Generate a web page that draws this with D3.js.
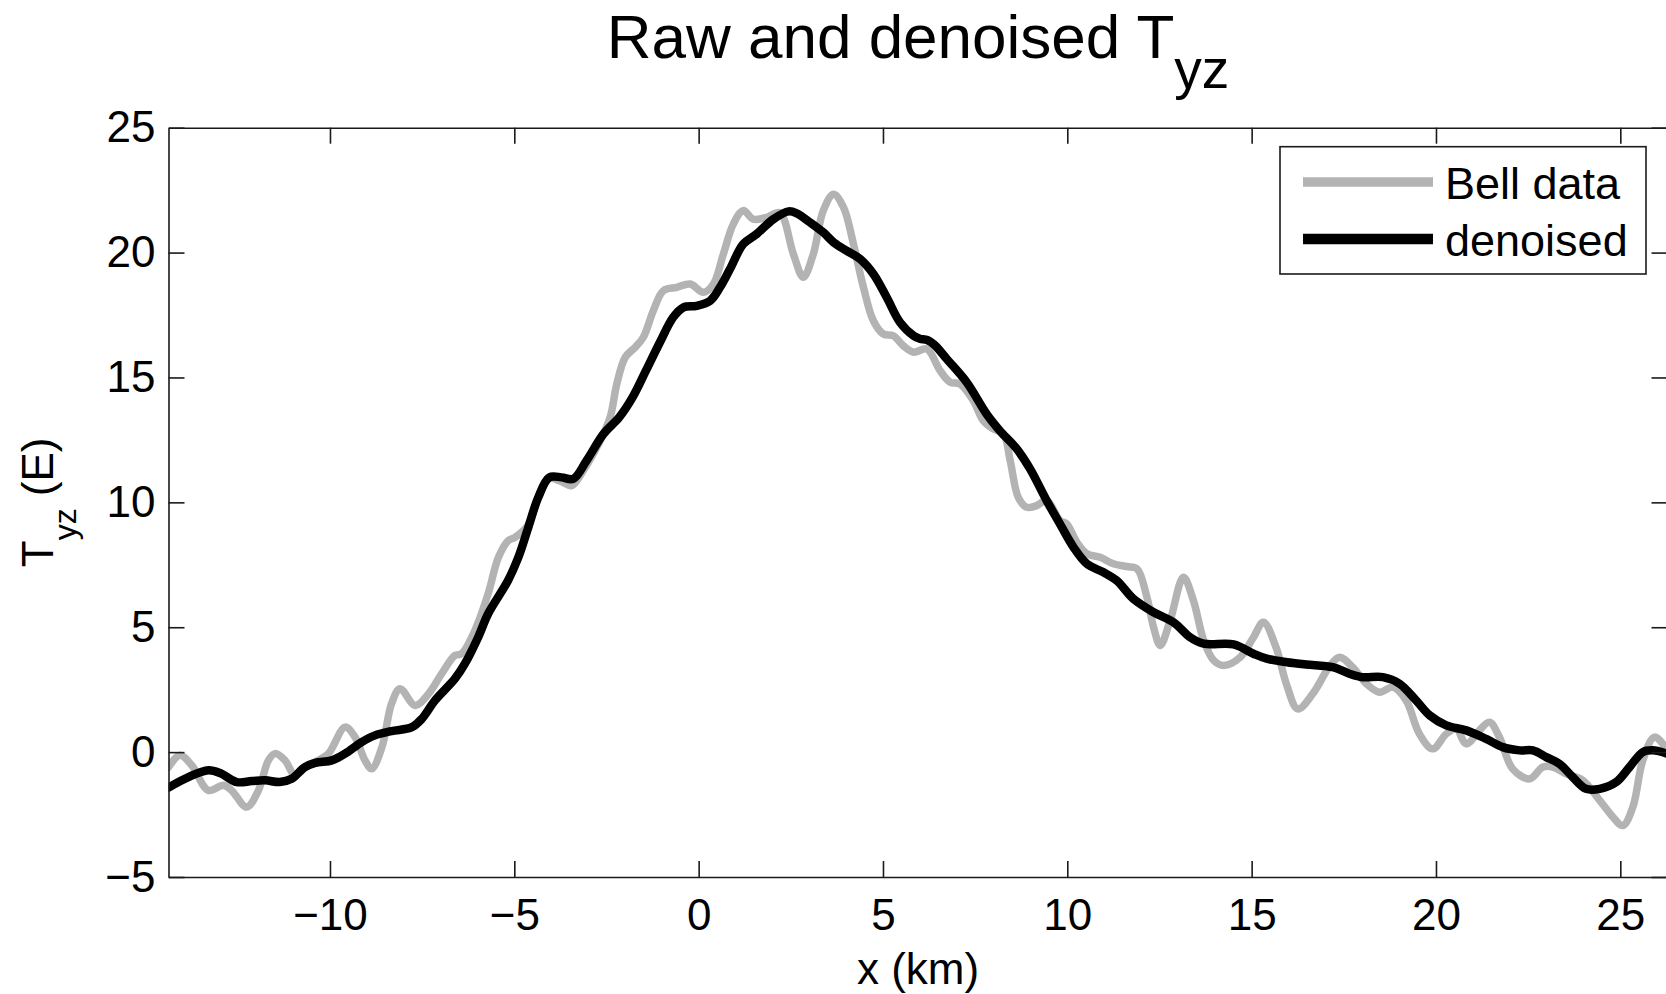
<!DOCTYPE html>
<html>
  <head>
    <meta charset="utf-8">
  </head>
  <body style="margin:0;background:#fff">
    <style>
      svg { display: block; }
      text { font-family: "Liberation Sans", Arial, sans-serif; fill: #000; }
    </style>
    <script src="https://d3js.org/d3.v7.min.js"></script>
    <script type="text/javascript">
      const width = 1666;
      const height = 994;
      const plotLeft = 168.5, plotRight = 1667.5, plotTop = 127.7, plotBottom = 877;

      const xTicks = [-10, -5, 0, 5, 10, 15, 20, 25];
      const yTicks = [-5, 0, 5, 10, 15, 20, 25];
      const seriesNames = ['Bell data', 'denoised'];

      // raw "Bell data" trace
      const bellX = [-14.38, -14.07, -13.75, -13.30, -12.89, -12.67, -12.26, -11.94, -11.67, -11.49,
        -11.22, -10.95, -10.68, -10.32, -10.04, -9.59, -9.32, -9.05, -8.87, -8.59,
        -8.33, -8.10, -7.69, -7.33, -6.97, -6.61, -6.43, -6.07, -5.71, -5.43,
        -5.16, -4.98, -4.62, -4.35, -4.05, -3.75, -3.44, -3.13, -2.67, -2.40,
        -2.22, -1.99, -1.72, -1.50, -1.23, -0.96, -0.59, -0.23, 0.13, 0.40,
        0.67, 0.94, 1.21, 1.48, 1.85, 2.20, 2.57, 2.84, 3.11, 3.38,
        3.66, 3.93, 4.20, 4.47, 4.74, 5.01, 5.28, 5.55, 5.83, 6.19,
        6.55, 6.82, 7.09, 7.45, 7.72, 7.99, 8.27, 8.45, 8.67, 8.90,
        9.17, 9.44, 9.80, 9.98, 10.26, 10.53, 10.89, 11.25, 11.61, 11.89,
        12.16, 12.34, 12.52, 12.79, 13.15, 13.42, 13.70, 13.97, 14.24, 14.69,
        15.05, 15.32, 15.66, 15.94, 16.25, 16.66, 17.10, 17.38, 17.74, 18.11,
        18.47, 18.83, 19.19, 19.55, 19.91, 20.28, 20.55, 20.82, 21.18, 21.45,
        21.72, 22.08, 22.54, 22.90, 23.17, 23.53, 23.98, 24.44, 24.80, 25.07,
        25.34, 25.61, 25.93, 26.28];
      const bellY = [-0.60, -0.13, -0.53, -1.53, -1.33, -1.53, -2.20, -1.53, -0.33, -0.06,
        -0.33, -0.93, -0.60, -0.33, -0.06, 1.00, 0.60, -0.33, -0.67, 0.20,
        1.94, 2.54, 1.87, 2.33, 3.14, 3.87, 3.94, 4.87, 6.34, 7.80,
        8.47, 8.60, 9.10, 10.20, 10.95, 10.85, 10.67, 11.27, 12.47, 13.41,
        14.74, 15.81, 16.21, 16.61, 17.67, 18.47, 18.61, 18.74, 18.41, 18.74,
        19.94, 21.14, 21.68, 21.34, 21.41, 21.60, 19.94, 19.01, 19.94, 21.68,
        22.34, 21.81, 20.34, 18.61, 17.27, 16.74, 16.67, 16.27, 16.01, 16.14,
        15.27, 14.81, 14.74, 14.07, 13.27, 12.94, 12.74, 11.67, 10.20, 9.80,
        9.87, 10.07, 9.27, 9.14, 8.40, 7.94, 7.80, 7.54, 7.43, 7.34,
        6.20, 5.00, 4.27, 5.27, 7.00, 6.07, 4.47, 3.67, 3.47, 3.80,
        4.60, 5.20, 4.20, 2.74, 1.73, 2.34, 3.40, 3.80, 3.40, 2.74,
        2.40, 2.60, 2.07, 0.73, 0.13, 0.73, 0.93, 0.33, 0.87, 1.20,
        0.60, -0.67, -1.07, -0.60, -0.60, -0.87, -1.13, -1.93, -2.60, -2.94,
        -2.20, -0.33, 0.60, 0.07];

      // denoised trace
      const denoisedX = [-14.38, -13.84, -13.30, -12.98, -12.53, -12.12, -11.76, -11.36, -11.04, -10.68,
        -10.40, -9.95, -9.59, -9.14, -8.78, -8.33, -7.78, -7.51, -7.15, -6.61,
        -6.34, -5.98, -5.71, -5.17, -4.89, -4.62, -4.35, -4.05, -3.72, -3.40,
        -3.04, -2.58, -2.15, -1.79, -1.43, -1.05, -0.69, -0.41, -0.05, 0.31,
        0.58, 0.85, 1.21, 1.57, 2.03, 2.44, 2.66, 3.02, 3.38, 3.66,
        4.02, 4.38, 4.74, 5.10, 5.46, 5.83, 6.00, 6.20, 6.40, 6.73,
        7.27, 7.81, 8.17, 8.63, 8.99, 9.44, 9.80, 10.17, 10.53, 10.98,
        11.34, 11.79, 12.34, 12.88, 13.33, 13.70, 14.51, 15.05, 15.41, 15.96,
        16.48, 17.20, 17.65, 18.01, 18.56, 19.01, 19.46, 19.83, 20.28, 20.82,
        21.36, 21.81, 22.27, 22.63, 22.99, 23.35, 23.71, 24.07, 24.44, 24.89,
        25.25, 25.61, 25.88, 26.28];
      const denoisedY = [-1.42, -1.00, -0.73, -0.84, -1.20, -1.16, -1.13, -1.20, -1.07, -0.60,
        -0.43, -0.33, -0.06, 0.40, 0.67, 0.84, 1.00, 1.33, 2.07, 2.94,
        3.54, 4.60, 5.54, 6.87, 7.80, 9.00, 10.20, 11.00, 11.00, 10.94,
        11.67, 12.74, 13.41, 14.21, 15.27, 16.41, 17.41, 17.81, 17.87, 18.07,
        18.61, 19.34, 20.34, 20.74, 21.34, 21.65, 21.57, 21.21, 20.81, 20.41,
        20.07, 19.74, 19.14, 18.21, 17.21, 16.67, 16.55, 16.50, 16.30, 15.74,
        14.81, 13.54, 12.87, 12.14, 11.34, 10.07, 9.14, 8.20, 7.54, 7.20,
        6.87, 6.14, 5.60, 5.20, 4.60, 4.34, 4.31, 3.94, 3.74, 3.60,
        3.51, 3.40, 3.14, 3.00, 3.00, 2.74, 2.07, 1.47, 1.07, 0.87,
        0.53, 0.20, 0.07, 0.07, -0.20, -0.47, -1.00, -1.47, -1.47, -1.20,
        -0.60, 0.00, 0.07, -0.07];

      const colors = ['#b3b3b3', '#000000'];
      const lineWidths = [7.5, 8.5];

      const svg = d3.select('body')
        .append('svg')
        .attr('width', width)
        .attr('height', height);

      const xScale = d3.scaleLinear()
        .domain([-14.38, 26.28])
        .range([plotLeft, plotRight]);

      const yScale = d3.scaleLinear()
        .domain([-5, 25])
        .range([plotBottom, plotTop]);

      svg.append('clipPath')
        .attr('id', 'plot-clip')
        .append('rect')
        .attr('x', plotLeft)
        .attr('y', plotTop)
        .attr('width', plotRight - plotLeft)
        .attr('height', plotBottom - plotTop);

      const line = d3.line()
        .x((d) => xScale(d[0]))
        .y((d) => yScale(d[1]))
        .curve(d3.curveCatmullRom.alpha(0.5));

      const series = [
        d3.zip(bellX, bellY),
        d3.zip(denoisedX, denoisedY),
      ];

      svg.append('g')
        .attr('clip-path', 'url(#plot-clip)')
        .selectAll('path')
        .data(series)
        .enter()
        .append('path')
        .attr('d', line)
        .attr('fill', 'none')
        .attr('stroke', (d, i) => colors[i])
        .attr('stroke-width', (d, i) => lineWidths[i])
        .attr('stroke-linejoin', 'round')
        .attr('stroke-linecap', 'round');

      // axes, ticks pointing inward
      const tickLen = 16;
      const axisColor = '#1a1a1a';

      svg.append('g')
        .attr('transform', `translate(0,${plotBottom})`)
        .call(d3.axisBottom(xScale).tickValues(xTicks).tickSizeInner(-tickLen).tickSizeOuter(0).tickPadding(22));

      svg.append('g')
        .attr('transform', `translate(0,${plotTop})`)
        .call(d3.axisTop(xScale).tickValues(xTicks).tickSizeInner(-tickLen).tickSizeOuter(0).tickFormat(''));

      svg.append('g')
        .attr('transform', `translate(${plotLeft},0)`)
        .call(d3.axisLeft(yScale).tickValues(yTicks).tickSizeInner(-tickLen).tickSizeOuter(0).tickPadding(13));

      svg.append('g')
        .attr('transform', `translate(${plotRight},0)`)
        .call(d3.axisRight(yScale).tickValues(yTicks).tickSizeInner(-tickLen).tickSizeOuter(0).tickFormat(''));

      svg.selectAll('.domain, .tick line')
        .attr('stroke', axisColor)
        .attr('stroke-width', 1.6);

      svg.selectAll('.tick text')
        .attr('font-size', 44)
        .attr('font-family', '"Liberation Sans", Arial, sans-serif')
        .attr('fill', '#000');

      // title with subscript
      const title = svg.append('text')
        .attr('x', (plotLeft + plotRight) / 2)
        .attr('y', 58)
        .attr('text-anchor', 'middle')
        .attr('font-size', 62);
      title.append('tspan').text('Raw and denoised T');
      title.append('tspan').attr('font-size', 55).attr('dy', 30).text('yz');

      // x label
      svg.append('text')
        .attr('x', (plotLeft + plotRight) / 2)
        .attr('y', 984)
        .attr('text-anchor', 'middle')
        .attr('font-size', 44)
        .text('x (km)');

      // y label
      const yLabel = svg.append('text')
        .attr('transform', `translate(53,${(plotTop + plotBottom) / 2}) rotate(-90)`)
        .attr('text-anchor', 'middle')
        .attr('font-size', 44);
      yLabel.append('tspan').text('T');
      yLabel.append('tspan').attr('font-size', 32).attr('dy', 23).text('yz');
      yLabel.append('tspan').attr('dy', -23).text(' (E)');

      // legend
      const legend = svg.append('g');
      legend.append('rect')
        .attr('x', 1280)
        .attr('y', 146.7)
        .attr('width', 366)
        .attr('height', 127.3)
        .attr('fill', '#fff')
        .attr('stroke', axisColor)
        .attr('stroke-width', 1.6);

      const legendRows = legend.selectAll('g.row')
        .data(seriesNames)
        .enter()
        .append('g')
        .attr('class', 'row')
        .attr('transform', (d, i) => `translate(0,${182 + i * 57})`);

      legendRows.append('line')
        .attr('x1', 1303)
        .attr('x2', 1433)
        .attr('stroke', (d, i) => colors[i])
        .attr('stroke-width', (d, i) => lineWidths[i] + 2);

      legendRows.append('text')
        .attr('x', 1445)
        .attr('y', 17)
        .attr('font-size', 45)
        .text((d) => d);
    </script>
  </body>
</html>
